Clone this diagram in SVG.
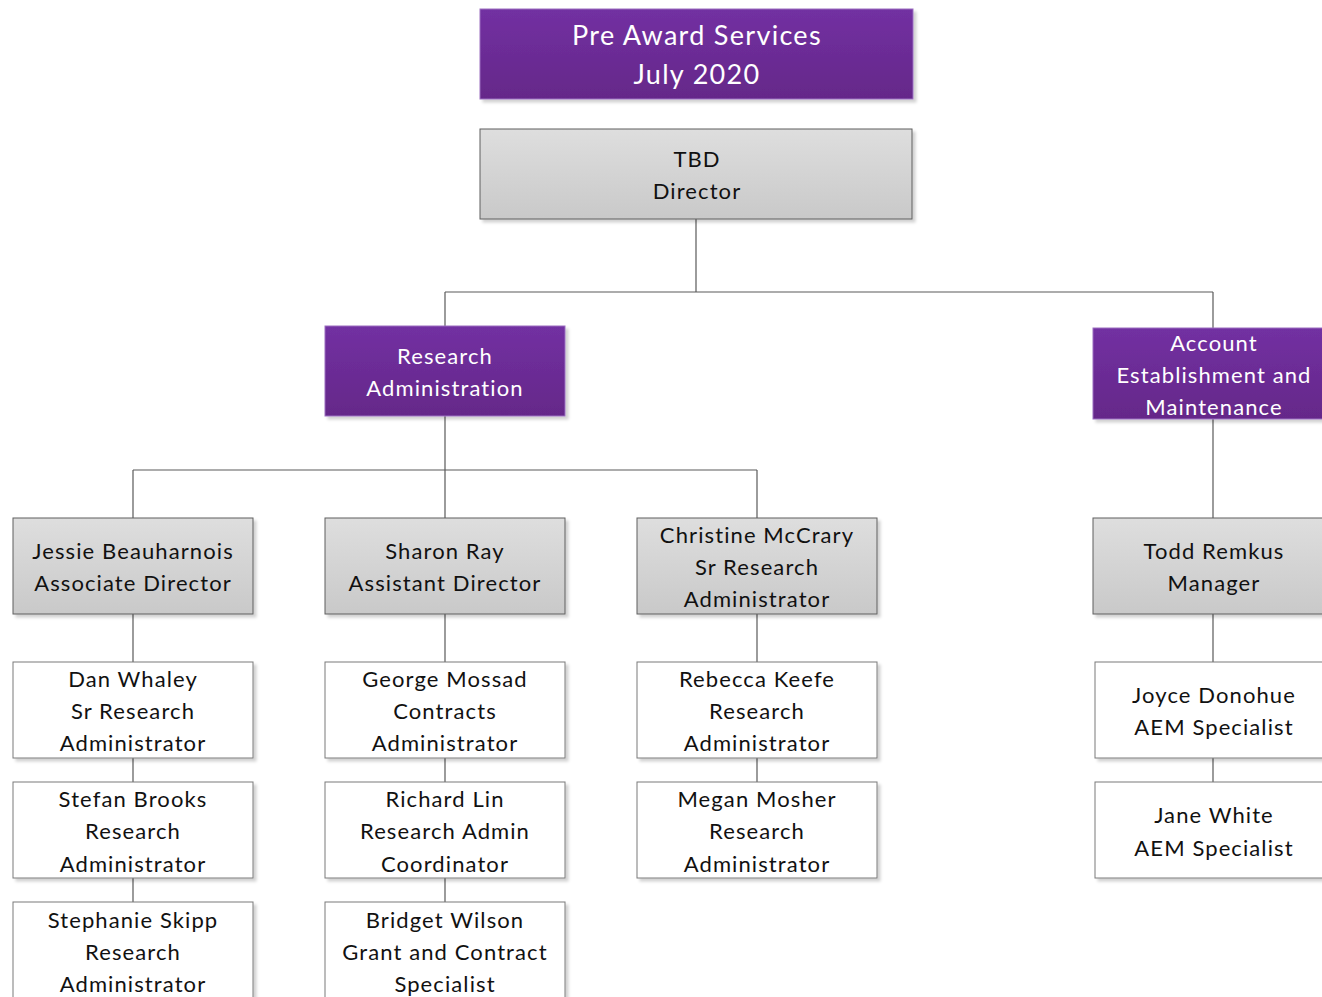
<svg xmlns="http://www.w3.org/2000/svg" width="1322" height="997" viewBox="0 0 1322 997">
<defs>
<linearGradient id="gPurple" x1="0" y1="0" x2="0" y2="1">
<stop offset="0" stop-color="#7230a2"/>
<stop offset="1" stop-color="#652889"/>
</linearGradient>
<linearGradient id="gGray" x1="0" y1="0" x2="0" y2="1">
<stop offset="0" stop-color="#dedede"/>
<stop offset="1" stop-color="#c9c9c9"/>
</linearGradient>
<filter id="sh" x="-5%" y="-5%" width="115%" height="120%">
<feDropShadow dx="3" dy="3" stdDeviation="1.5" flood-color="#000" flood-opacity="0.18"/>
</filter>
<style>
.p{fill:url(#gPurple);stroke:#9b6fc0;stroke-width:1;filter:url(#sh)}
.g{fill:url(#gGray);stroke:#5f5f5f;stroke-width:1;filter:url(#sh)}
.w{fill:#ffffff;stroke:#7a7a7a;stroke-width:1;filter:url(#sh)}
text{font-family:Lato,"Open Sans",sans-serif;text-anchor:middle;dominant-baseline:central;letter-spacing:1.1px}
.tw{fill:#ffffff;font-size:22px}
.tt{fill:#ffffff;font-size:27px;letter-spacing:1.3px}
.tb{fill:#111111;font-size:22px}
.c{fill:none;stroke:#5a5a5a;stroke-width:1.2}
</style>
</defs>
<g id="connectors">
<path class="c" d="M696 219V292M445 292H1213M445 292V326M1213 292V328"/>
<path class="c" d="M445 416V470M133 470H757M133 470V518M445 470V518M757 470V518"/>
<path class="c" d="M133 614V662M133 758V782M133 878V902"/>
<path class="c" d="M445 614V662M445 758V782M445 878V902"/>
<path class="c" d="M757 614V662M757 758V782"/>
<path class="c" d="M1213 419V518M1213 614V662M1213 758V782"/>
</g>
<g id="title">
<rect class="p" x="480" y="9" width="433" height="90"/>
<text class="tt" x="697" y="34">Pre Award Services</text>
<text class="tt" x="697" y="73">July 2020</text>
</g>
<g id="director">
<rect class="g" x="480" y="129" width="432" height="90"/>
<text class="tb" x="697" y="158">TBD</text>
<text class="tb" x="697" y="190">Director</text>
</g>
<g id="research-admin">
<rect class="p" x="325" y="326" width="240" height="90"/>
<text class="tw" x="445" y="355">Research</text>
<text class="tw" x="445" y="387">Administration</text>
</g>
<g id="aem">
<rect class="p" x="1093" y="328" width="240" height="91"/>
<text class="tw" x="1214" y="342">Account</text>
<text class="tw" x="1214" y="374">Establishment and</text>
<text class="tw" x="1214" y="406">Maintenance</text>
</g>
<g id="jessie">
<rect class="g" x="13" y="518" width="240" height="96"/>
<text class="tb" x="133" y="550">Jessie Beauharnois</text>
<text class="tb" x="133" y="582">Associate Director</text>
</g>
<g id="sharon">
<rect class="g" x="325" y="518" width="240" height="96"/>
<text class="tb" x="445" y="550">Sharon Ray</text>
<text class="tb" x="445" y="582">Assistant Director</text>
</g>
<g id="christine">
<rect class="g" x="637" y="518" width="240" height="96"/>
<text class="tb" x="757" y="534">Christine McCrary</text>
<text class="tb" x="757" y="566">Sr Research</text>
<text class="tb" x="757" y="598">Administrator</text>
</g>
<g id="todd">
<rect class="g" x="1093" y="518" width="240" height="96"/>
<text class="tb" x="1214" y="550">Todd Remkus</text>
<text class="tb" x="1214" y="582">Manager</text>
</g>
<g id="dan">
<rect class="w" x="13" y="662" width="240" height="96"/>
<text class="tb" x="133" y="678">Dan Whaley</text>
<text class="tb" x="133" y="710">Sr Research</text>
<text class="tb" x="133" y="742">Administrator</text>
</g>
<g id="stefan">
<rect class="w" x="13" y="782" width="240" height="96"/>
<text class="tb" x="133" y="798">Stefan Brooks</text>
<text class="tb" x="133" y="830">Research</text>
<text class="tb" x="133" y="863">Administrator</text>
</g>
<g id="stephanie">
<rect class="w" x="13" y="902" width="240" height="100"/>
<text class="tb" x="133" y="919">Stephanie Skipp</text>
<text class="tb" x="133" y="951">Research</text>
<text class="tb" x="133" y="983">Administrator</text>
</g>
<g id="george">
<rect class="w" x="325" y="662" width="240" height="96"/>
<text class="tb" x="445" y="678">George Mossad</text>
<text class="tb" x="445" y="710">Contracts</text>
<text class="tb" x="445" y="742">Administrator</text>
</g>
<g id="richard">
<rect class="w" x="325" y="782" width="240" height="96"/>
<text class="tb" x="445" y="798">Richard Lin</text>
<text class="tb" x="445" y="830">Research Admin</text>
<text class="tb" x="445" y="863">Coordinator</text>
</g>
<g id="bridget">
<rect class="w" x="325" y="902" width="240" height="100"/>
<text class="tb" x="445" y="919">Bridget Wilson</text>
<text class="tb" x="445" y="951">Grant and Contract</text>
<text class="tb" x="445" y="983">Specialist</text>
</g>
<g id="rebecca">
<rect class="w" x="637" y="662" width="240" height="96"/>
<text class="tb" x="757" y="678">Rebecca Keefe</text>
<text class="tb" x="757" y="710">Research</text>
<text class="tb" x="757" y="742">Administrator</text>
</g>
<g id="megan">
<rect class="w" x="637" y="782" width="240" height="96"/>
<text class="tb" x="757" y="798">Megan Mosher</text>
<text class="tb" x="757" y="830">Research</text>
<text class="tb" x="757" y="863">Administrator</text>
</g>
<g id="joyce">
<rect class="w" x="1095" y="662" width="240" height="96"/>
<text class="tb" x="1214" y="694">Joyce Donohue</text>
<text class="tb" x="1214" y="726">AEM Specialist</text>
</g>
<g id="jane">
<rect class="w" x="1095" y="782" width="240" height="96"/>
<text class="tb" x="1214" y="814">Jane White</text>
<text class="tb" x="1214" y="847">AEM Specialist</text>
</g>
</svg>
